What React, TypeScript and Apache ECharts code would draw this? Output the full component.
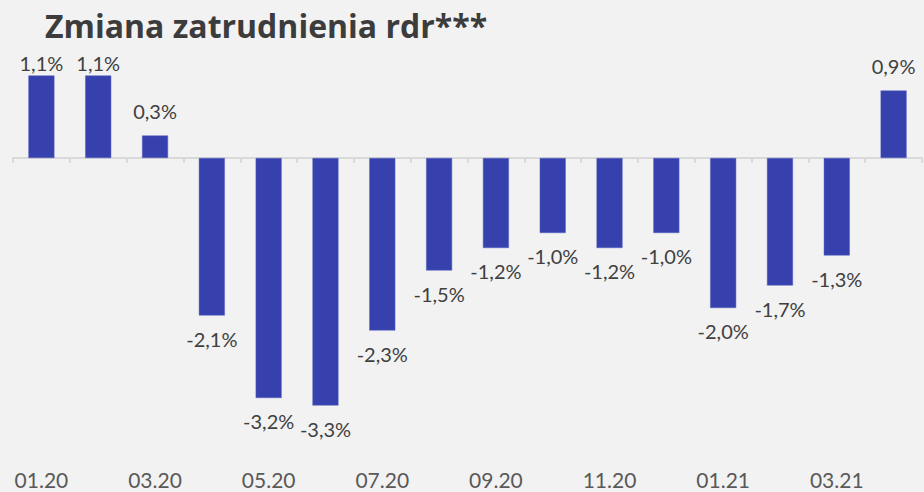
import React, { useEffect, useRef } from "react";
import * as echarts from "echarts";

const categories = [
  "01.20", "02.20", "03.20", "04.20", "05.20", "06.20", "07.20", "08.20",
  "09.20", "10.20", "11.20", "12.20", "01.21", "02.21", "03.21", "04.21",
];
const values = [1.1, 1.1, 0.3, -2.1, -3.2, -3.3, -2.3, -1.5, -1.2, -1.0, -1.2, -1.0, -2.0, -1.7, -1.3, 0.9];
const titleText = "Zmiana zatrudnienia rdr***";

const FONT = "Lato, 'Open Sans', sans-serif";

export default function App() {
  const ref = useRef<HTMLDivElement>(null);
  useEffect(() => {
    if (!ref.current) return;
    const chart = echarts.init(ref.current, null, { renderer: "svg" });
    chart.setOption({
      animation: false,
      backgroundColor: "#f2f2f2",
      title: {
        text: titleText,
        left: 40,
        top: 4,
        textStyle: { fontFamily: "'Open Sans', sans-serif", fontWeight: "bold", fontSize: 32, color: "#3c3c3c" },
      },
      grid: { left: 13, right: 2, top: 68, bottom: 34, containLabel: false },
      xAxis: [
        {
          type: "category",
          data: categories,
          axisLine: { show: true, onZero: true, lineStyle: { color: "#d9d9d9", width: 2 } },
          axisTick: { show: true, length: 5, lineStyle: { color: "#d9d9d9", width: 2 } },
          axisLabel: { show: false },
        },
        {
          type: "category",
          data: categories,
          position: "bottom",
          axisLine: { show: false, onZero: false },
          axisTick: { show: false },
          axisLabel: {
            show: true,
            interval: 1,
            margin: 11,
            fontFamily: FONT,
            fontSize: 21,
            lineHeight: 21,
            color: "#595959",
          },
        },
      ],
      yAxis: {
        type: "value",
        min: -4,
        max: 1.2,
        show: false,
        splitLine: { show: false },
      },
      series: [
        {
          type: "bar",
          xAxisIndex: 0,
          barWidth: 26,
          itemStyle: { color: "#3641ad", borderColor: "#5660c0", borderWidth: 0.5 },
          data: values.map((v) => ({
            value: v,
            label: {
              show: true,
              position: v >= 0 ? "top" : "bottom",
              distance: v >= 1 ? 3 : v >= 0 ? 15 : 13,
              formatter: (p: any) => String(p.value.toFixed(1)).replace(".", ",") + "%",
              fontFamily: FONT,
              fontSize: 20,
              color: "#404040",
            },
          })),
        },
      ],
    });
    return () => chart.dispose();
  }, []);
  return <div ref={ref} style={{ width: 924, height: 492, position: "absolute", left: 0, top: 0 }} />;
}
